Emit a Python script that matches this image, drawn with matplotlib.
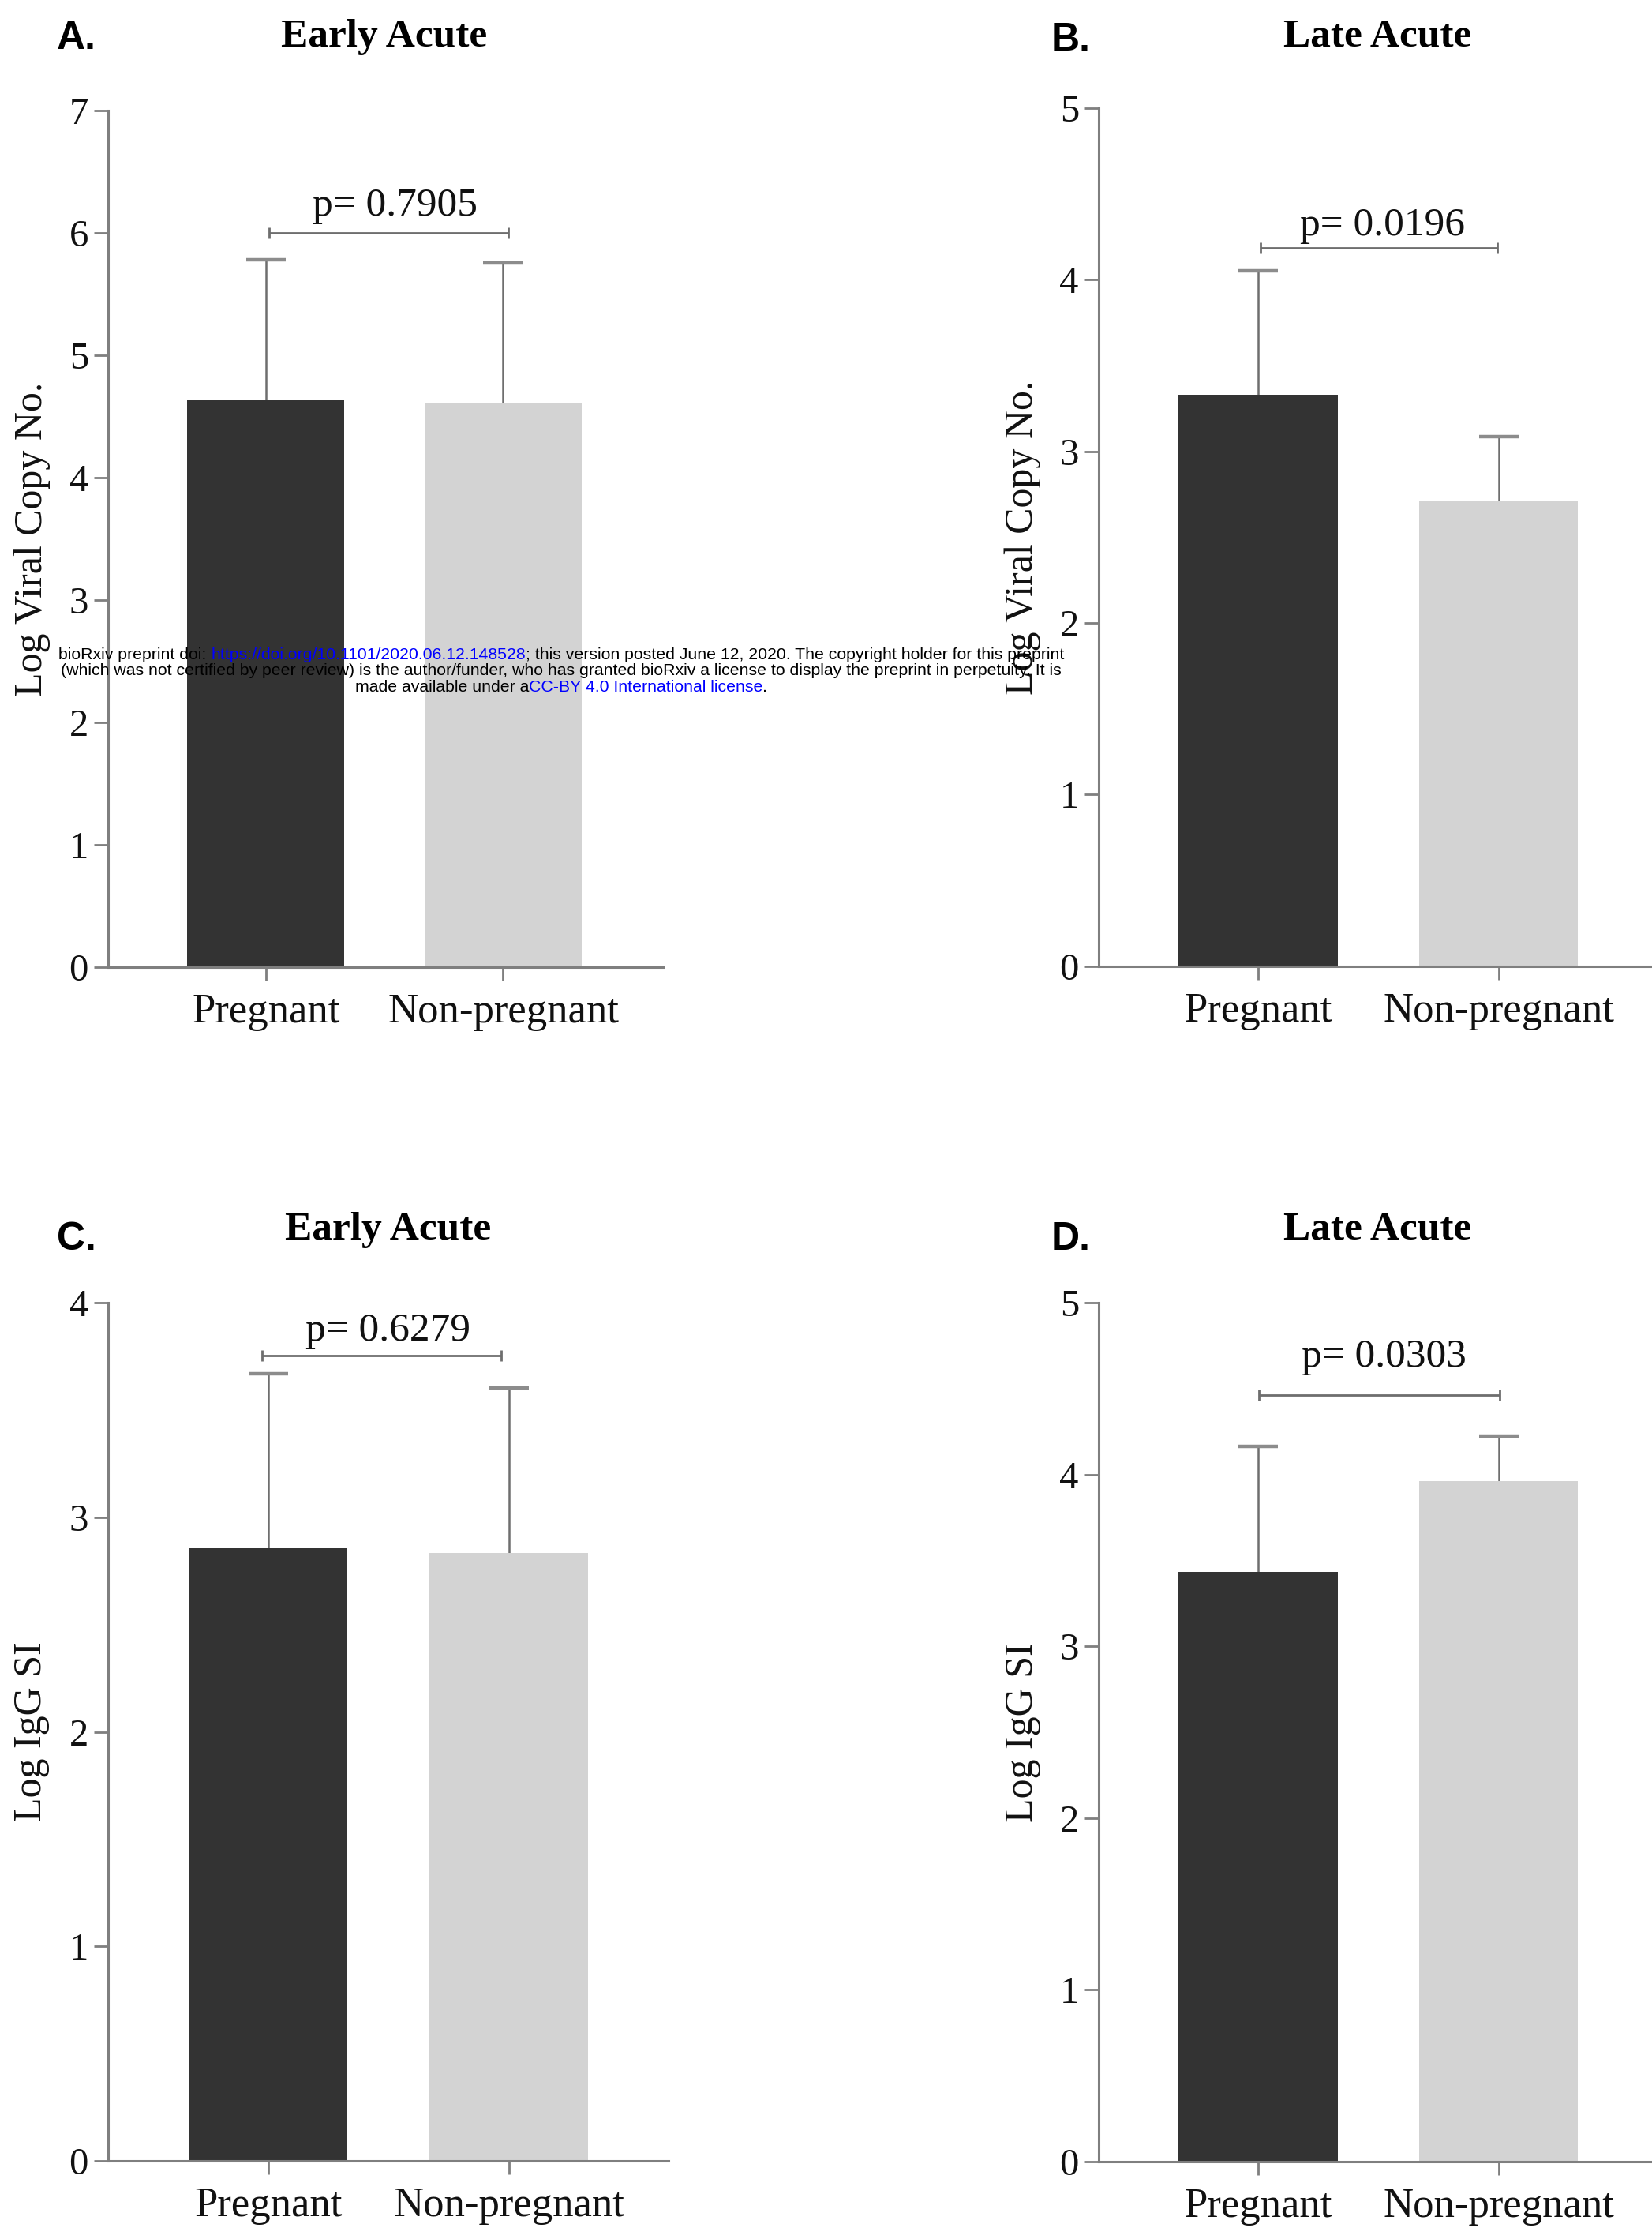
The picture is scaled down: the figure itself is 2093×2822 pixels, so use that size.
import matplotlib
matplotlib.use('Agg')
import matplotlib.pyplot as plt
import numpy as np

plt.rcParams['font.family'] = ['Liberation Serif', 'DejaVu Serif']

# ---------------- data ----------------
categories = ['Pregnant', 'Non-pregnant']

# A: Early Acute, Log Viral Copy No.
a_mean = [4.634, 4.609]
a_sd = [1.146, 1.148]
a_p = 'p= 0.7905'
# B: Late Acute, Log Viral Copy No.
b_mean = [3.33, 2.714]
b_sd = [0.72, 0.372]
b_p = 'p= 0.0196'
# C: Early Acute, Log IgG SI
c_mean = [2.856, 2.832]
c_sd = [0.813, 0.769]
c_p = 'p= 0.6279'
# D: Late Acute, Log IgG SI
d_mean = [3.433, 3.962]
d_sd = [0.731, 0.261]
d_p = 'p= 0.0303'

titles = ['Early Acute', 'Late Acute', 'Early Acute', 'Late Acute']
letters = ['A.', 'B.', 'C.', 'D.']
ylabels = ['Log Viral Copy No.', 'Log Viral Copy No.', 'Log IgG SI', 'Log IgG SI']
yticks = [list(range(0, 8)), list(range(0, 6)), list(range(0, 5)), list(range(0, 6))]

# ---------------- style / layout ----------------
bar_colors = ['#333333', '#d3d3d3']
axis_col = '#7f7f7f'
err_col = '#6e6e6e'
cap_col = '#8c8c8c'

panels = [
    dict(mean=a_mean, sd=a_sd, p=a_p, rect=[0.0654, 0.5659, 0.3359, 0.3845], xlim=(-0.664, 1.673),
         bracket=(0.013, 1.023, 6.0), ptext=(0.545, 6.14),
         letter_xy=(0.0344, 0.9825), title_xy=(0.2325, 0.979)),
    dict(mean=b_mean, sd=b_sd, p=b_p, rect=[0.665, 0.5663, 0.335, 0.3852], xlim=(-0.663, 1.637),
         bracket=(0.01, 0.995, 4.186), ptext=(0.517, 4.26),
         letter_xy=(0.636, 0.9818), title_xy=(0.834, 0.9794)),
    dict(mean=c_mean, sd=c_sd, p=c_p, rect=[0.0654, 0.0301, 0.3393, 0.3852], xlim=(-0.667, 1.665),
         bracket=(-0.027, 0.968, 3.752), ptext=(0.496, 3.823),
         letter_xy=(0.0344, 0.4435), title_xy=(0.235, 0.4437)),
    dict(mean=d_mean, sd=d_sd, p=d_p, rect=[0.665, 0.0298, 0.335, 0.3855], xlim=(-0.663, 1.637),
         bracket=(0.005, 1.005, 4.463), ptext=(0.522, 4.63),
         letter_xy=(0.636, 0.4435), title_xy=(0.834, 0.4437)),
]

fig = plt.figure(figsize=(20.93, 28.22), dpi=100)

for i, pn in enumerate(panels):
    ax = fig.add_axes(pn['rect'])
    x = np.arange(len(categories))
    mean = np.array(pn['mean'])
    top = mean + np.array(pn['sd'])
    # error bars (upper only)
    ax.vlines(x, mean, top, colors=err_col, lw=1.8, zorder=1)
    ax.plot(x, top, ls='none', marker='_', ms=36, mew=3.2, color=cap_col, zorder=1)
    ax.bar(x, mean, width=0.66, color=bar_colors, edgecolor='none', zorder=2)

    # significance bracket
    x0, x1, yb = pn['bracket']
    ax.plot([x0, x1], [yb, yb], color=err_col, lw=2.0, marker='|', ms=10, mew=2.0,
            solid_capstyle='butt', zorder=3, clip_on=False)
    ax.text(pn['ptext'][0], pn['ptext'][1], pn['p'], ha='center', va='baseline',
            fontsize=37, color='#111111')

    ax.set_xlim(*pn['xlim'])
    ax.set_ylim(yticks[i][0], yticks[i][-1])
    ax.set_yticks(yticks[i])
    ax.set_xticks(x)
    ax.set_xticklabels(categories)
    for s in ['top', 'right']:
        ax.spines[s].set_visible(False)
    for s in ['left', 'bottom']:
        ax.spines[s].set_color(axis_col)
        ax.spines[s].set_linewidth(2.2)
    ax.tick_params(axis='y', direction='out', length=13, width=2.0, color=axis_col,
                   labelsize=35, pad=5, labelcolor='#111111')
    ax.tick_params(axis='x', direction='out', length=12, width=2.0, color=axis_col,
                   labelsize=38, pad=12, labelcolor='#111111')
    ax.text(-0.137, 0.5, ylabels[i], transform=ax.transAxes, rotation=90,
            ha='center', va='center', fontsize=36, color='#111111')

    fig.text(pn['letter_xy'][0], pn['letter_xy'][1], letters[i], ha='left', va='center',
             fontsize=36, fontweight='bold', family=['Liberation Sans', 'DejaVu Sans'])
    fig.text(pn['title_xy'][0], pn['title_xy'][1], titles[i], ha='center', va='baseline',
             fontsize=37, fontweight='bold')

# ---------------- bioRxiv watermark ----------------
wm_lines = [
    [("bioRxiv preprint doi: ", 'black'),
     ("https://doi.org/10.1101/2020.06.12.148528", 'blue'),
     ("; this version posted June 12, 2020. The copyright holder for this preprint", 'black')],
    [("(which was not certified by peer review) is the author/funder, who has granted bioRxiv a license to display the preprint in perpetuity. It is", 'black')],
    [("made available under a", 'black'),
     ("CC-BY 4.0 International license", 'blue'),
     (".", 'black')],
]
wm_y = [0.7062, 0.6991, 0.6917]
wm_cx = 0.3397
wm_fs = 15.3

renderer = fig.canvas.get_renderer()
figw = fig.bbox.width
for line, yy in zip(wm_lines, wm_y):
    texts = []
    for s, c in line:
        t = fig.text(0, yy, s, color=c, fontsize=wm_fs, ha='left', va='center',
                     family=['Liberation Sans', 'DejaVu Sans'], zorder=10)
        texts.append(t)
    widths = [t.get_window_extent(renderer).width / figw for t in texts]
    total = sum(widths)
    xx = wm_cx - total / 2
    for t, w in zip(texts, widths):
        t.set_x(xx)
        xx += w

fig.savefig('out.png', dpi=100, facecolor='white')
